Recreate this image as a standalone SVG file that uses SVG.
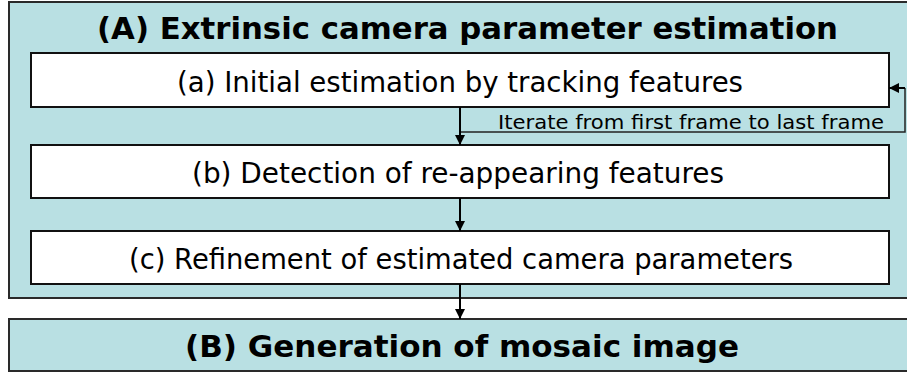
<svg xmlns="http://www.w3.org/2000/svg" width="907" height="372" viewBox="0 0 907 372">
<defs>
<style>
.panel{fill:#B9E0E3;stroke:#2a2a2a;stroke-width:2}
.box{fill:#ffffff;stroke:#111;stroke-width:2}
.t{font-family:"DejaVu Sans","Liberation Sans",sans-serif;font-size:29px;fill:#000}
.tb{font-family:"DejaVu Sans","Liberation Sans",sans-serif;font-size:31px;font-weight:bold;fill:#000}
.small{font-family:"DejaVu Sans","Liberation Sans",sans-serif;font-size:20px;fill:#000}
.ln{fill:none;stroke:#000;stroke-width:2}
.ln2{fill:none;stroke:#222;stroke-width:1.5}
</style>
<marker id="ah" viewBox="0 0 10 10" refX="10" refY="5" markerWidth="10" markerHeight="10" markerUnits="userSpaceOnUse" orient="auto">
<path d="M0,0 L10,5 L0,10 Z" fill="#000"/>
</marker>
</defs>
<g id="nodeA">
<rect class="panel" x="9" y="2" width="910" height="296"/>
<text class="tb" x="97" y="39" textLength="741" lengthAdjust="spacingAndGlyphs">(A) Extrinsic camera parameter estimation</text>
</g>
<g id="nodeAa">
<rect class="box" x="31" y="53" width="858" height="54"/>
<text class="t" x="177" y="92" textLength="566" lengthAdjust="spacingAndGlyphs">(a) Initial estimation by tracking features</text>
</g>
<g id="nodeAb">
<rect class="box" x="31" y="145" width="858" height="53"/>
<text class="t" x="192" y="183" textLength="532" lengthAdjust="spacingAndGlyphs">(b) Detection of re-appearing features</text>
</g>
<g id="nodeAc">
<rect class="box" x="31" y="231" width="858" height="53"/>
<text class="t" x="129" y="269" textLength="664" lengthAdjust="spacingAndGlyphs">(c) Refinement of estimated camera parameters</text>
</g>
<g id="nodeB">
<rect class="panel" x="9" y="319" width="910" height="52"/>
<text class="tb" x="185" y="357" textLength="554" lengthAdjust="spacingAndGlyphs">(B) Generation of mosaic image</text>
</g>
<g id="connectors">
<path class="ln2" d="M460,132 H905 V88"/>
<path class="ln" d="M905,88 H889" marker-end="url(#ah)"/>
<path class="ln" d="M460,107 V145" marker-end="url(#ah)"/>
<path class="ln" d="M460,198 V231" marker-end="url(#ah)"/>
<path class="ln" d="M460,284 V319" marker-end="url(#ah)"/>
<text class="small" x="498" y="129" textLength="386" lengthAdjust="spacingAndGlyphs">Iterate from first frame to last frame</text>
</g>
</svg>
